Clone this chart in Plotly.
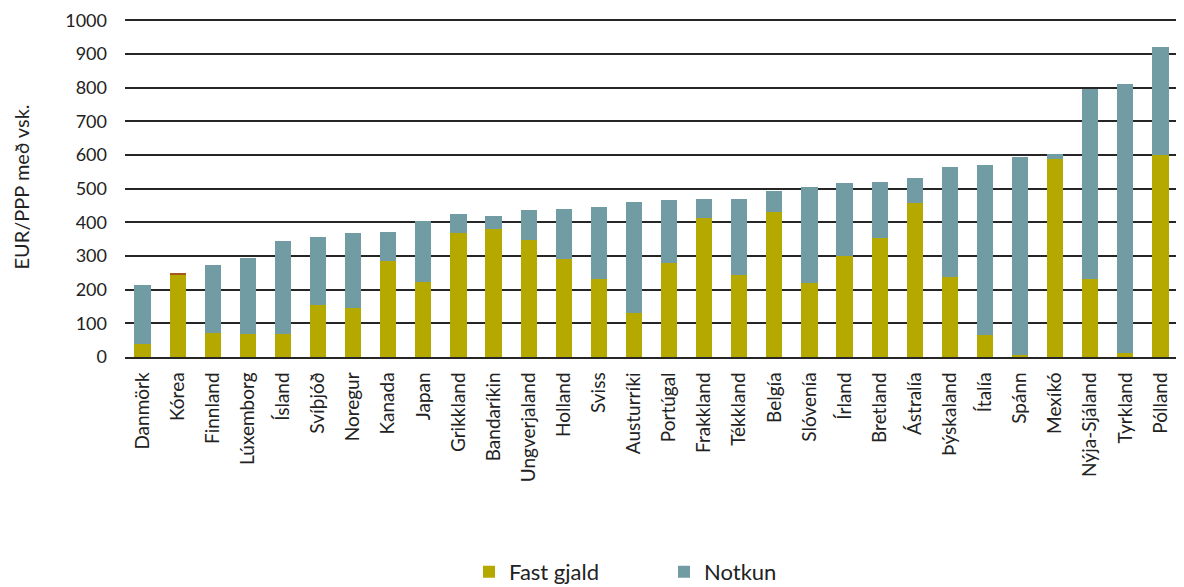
import plotly.graph_objects as go

countries = ["Danmörk", "Kórea", "Finnland", "Lúxemborg", "Ísland", "Svíþjóð", "Noregur", "Kanada",
             "Japan", "Grikkland", "Bandaríkin", "Ungverjaland", "Holland", "Sviss", "Austurríki",
             "Portúgal", "Frakkland", "Tékkland", "Belgía", "Slóvenía", "Írland", "Bretland",
             "Ástralía", "Þýskaland", "Ítalía", "Spánn", "Mexíkó", "Nýja-Sjáland", "Tyrkland", "Pólland"]
fast_gjald = [40, 244, 71, 69, 69, 154, 146, 285,
              224, 369, 379, 349, 290, 232, 131,
              278, 414, 244, 432, 220, 301, 355,
              458, 238, 64, 7, 588, 232, 13, 600]
notkun = [174, 0, 202, 225, 275, 202, 222, 86,
          180, 56, 40, 88, 150, 214, 330,
          189, 56, 226, 61, 285, 216, 165,
          74, 326, 506, 587, 15, 564, 798, 321]
annad = [0, 6, 0, 0, 0, 0, 0, 0,
         0, 0, 0, 0, 0, 0, 0,
         0, 0, 0, 0, 0, 0, 0,
         0, 0, 0, 0, 0, 0, 0, 0]
y_ticks = [0, 100, 200, 300, 400, 500, 600, 700, 800, 900, 1000]

FONT = "Lato"
fig = go.Figure()
fig.add_trace(go.Bar(x=countries, y=fast_gjald, name="Fast gjald", marker_color="#B5A900",
                     marker_line_width=0))
fig.add_trace(go.Bar(x=countries, y=annad, name="Annað", marker_color="#A9561E",
                     marker_line_width=0, showlegend=False))
fig.add_trace(go.Bar(x=countries, y=notkun, name="Notkun", marker_color="#729CA3",
                     marker_line_width=0))

fig.update_layout(
    barmode="stack",
    bargap=0.54,
    width=1176, height=579,
    margin=dict(l=117, r=6, t=9, b=230, autoexpand=False),
    plot_bgcolor="white", paper_bgcolor="white",
    font=dict(family=FONT, size=18, color="#222"),
    legend=dict(orientation="h", x=0.3267, xanchor="left", y=0.026, yanchor="middle", yref="container",
                font=dict(size=22, family=FONT, color="#222"),
                entrywidth=150, traceorder="normal"),
    showlegend=True,
)
fig.update_yaxes(range=[0, 1010], tickvals=y_ticks, showgrid=True, gridcolor="#262626", gridwidth=1.6,
                 ticks="",
                 ticklabelstandoff=17, automargin=False,
                 tickfont=dict(size=18, family=FONT),
                 title=dict(text="EUR/PPP með vsk.", font=dict(size=20, family=FONT), standoff=30),
                 zeroline=False, showline=False)
fig.update_xaxes(tickangle=-90, tickfont=dict(size=19, family=FONT), showline=True,
                 linecolor="#262626", linewidth=1.6, ticks="", ticklabelstandoff=6, automargin=False)

fig.write_html("out.html")
